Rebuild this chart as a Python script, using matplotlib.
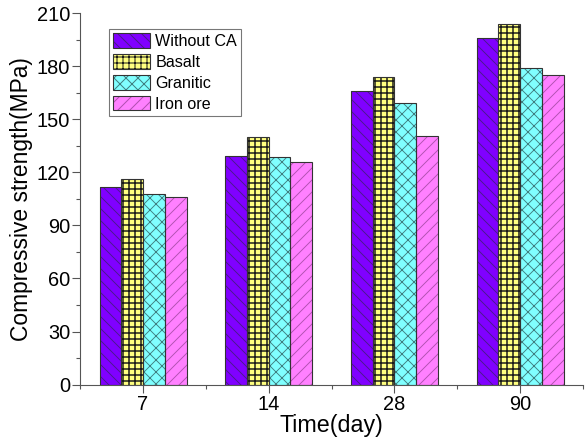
import numpy as np
import matplotlib
matplotlib.use('Agg')
import matplotlib.pyplot as plt
from matplotlib.patches import Patch
from matplotlib.legend_handler import HandlerTuple
from matplotlib.ticker import MultipleLocator

plt.rcParams['font.family'] = ['Liberation Sans', 'DejaVu Sans']

# data
days = ['7', '14', '28', '90']
series = ['Without CA', 'Basalt', 'Granitic', 'Iron ore']
without_ca = [112, 129.5, 166, 196]
basalt = [116, 140, 174, 204]
granitic = [107.5, 128.5, 159, 179]
iron_ore = [106, 126, 140.5, 175]

values = [without_ca, basalt, granitic, iron_ore]
face_colors = ['#8000ff', '#ffff80', '#80ffff', '#ff80ff']
hatch_colors = ['#4a1a8a', '#1a1a1a', '#3f7f80', '#b050b0']
hatches = ['\\\\', '++', 'xx', '//']
hatch_widths = [0.9, 1.5, 0.9, 0.9]
edge = '#333333'

# 72 dpi so one point is one pixel (also sets the hatch spacing)
fig = plt.figure(figsize=(585 / 72, 440 / 72), dpi=72)
ax = fig.add_axes([0.137, 0.126, 0.8596, 0.844])

x = np.arange(len(days))
w = 0.173
handles = []
for i, vals in enumerate(values):
    pos = x + (i - 1.5) * w
    ax.bar(pos, vals, w, color=face_colors[i], edgecolor='none', lw=0, zorder=2)
    with plt.rc_context({'hatch.linewidth': hatch_widths[i]}):
        ax.bar(pos, vals, w, fill=False, hatch=hatches[i],
               edgecolor=hatch_colors[i], lw=0, zorder=3)
        h_patch = Patch(fill=False, hatch=hatches[i], edgecolor=hatch_colors[i], lw=0)
    ax.bar(pos, vals, w, fill=False, edgecolor=edge, lw=1.1, zorder=4)
    handles.append((Patch(facecolor=face_colors[i], edgecolor='none'),
                    h_patch,
                    Patch(fill=False, edgecolor=edge, lw=1.1)))

ax.set_xlim(-0.5, 3.5)
ax.set_ylim(0, 210)
ax.set_xticks(x)
ax.set_xticklabels(days)
ax.xaxis.set_minor_locator(MultipleLocator(1, offset=0.5))
ax.yaxis.set_major_locator(MultipleLocator(30))
ax.yaxis.set_minor_locator(MultipleLocator(15))

for s in ['top', 'right']:
    ax.spines[s].set_visible(False)
for s in ['left', 'bottom']:
    ax.spines[s].set_color('#555555')
    ax.spines[s].set_linewidth(1.1)

ax.tick_params(which='major', direction='out', length=7.8, width=1.1,
               color='#555555', labelsize=20, pad=2.2)
ax.tick_params(which='minor', direction='out', length=4.4, width=1.1, color='#555555')

ax.set_xlabel('Time(day)', fontsize=23.3, labelpad=0)
ax.set_ylabel('Compressive strength(MPa)', fontsize=22.8, labelpad=3.3)

leg = ax.legend(handles, series, handler_map={tuple: HandlerTuple(ndivide=1, pad=0)},
                loc='upper left', bbox_to_anchor=(0.058, 0.957), borderaxespad=0,
                fontsize=16.1, fancybox=False, frameon=True, edgecolor='#555555',
                handlelength=2.3, handleheight=1.05, labelspacing=0.3,
                borderpad=0.25, handletextpad=0.3)
leg.get_frame().set_linewidth(1.1)
leg.set_zorder(5)

fig.savefig('out.png', dpi=72)
